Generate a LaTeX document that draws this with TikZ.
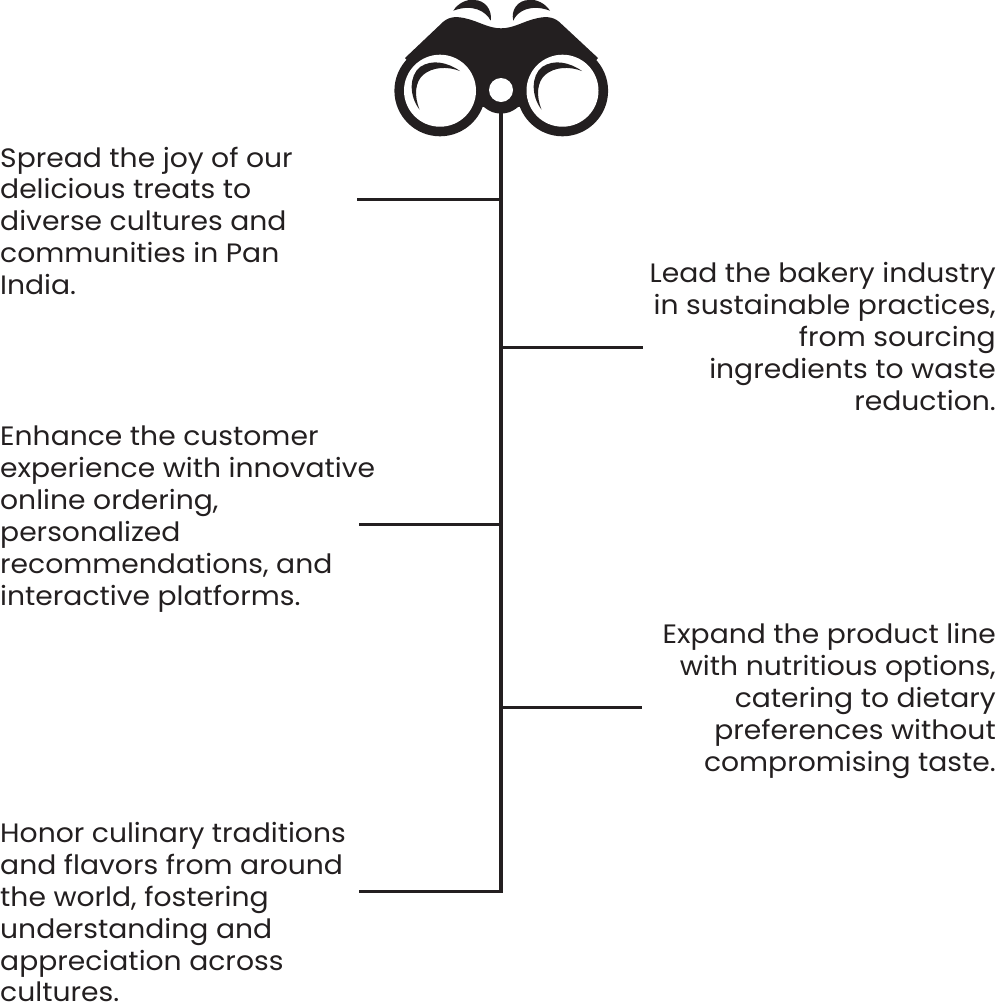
\documentclass[tikz,border=0pt]{standalone}
\usepackage{fontspec}
\setmainfont{Poppins}[FakeStretch=1.06,Ligatures=NoCommon]
\definecolor{ink}{HTML}{231F20}
\tikzset{
  every picture/.style={x=1pt,y=-1pt},
  leftnote/.style={anchor=north west,align=left,inner sep=0pt,text=ink,font=\fontsize{26.6}{31.9}\selectfont},
  rightnote/.style={anchor=north east,align=right,inner sep=0pt,text=ink,font=\fontsize{26.6}{31.9}\selectfont},
  rule/.style={draw=ink,line width=3pt},
  spine/.style={draw=ink,line width=4pt},
  junction/.style={coordinate}
}
\begin{document}
\begin{tikzpicture}
\useasboundingbox (0,0) rectangle (996,1002);

% binocular body and barrels
\fill[ink] (405,58) -- (443.3,21.7) .. controls (450,16) and (458,16.5) .. (466,18.5)
  .. controls (478,21) and (488,28.3) .. (501,28.3)
  .. controls (514,28.3) and (524,21) .. (536,18.5)
  .. controls (544,16.5) and (552,16) .. (559,21.7)
  -- (598,58) -- (563,100) -- (518,107)
  .. controls (512,112) and (507,113.5) .. (501,113.5)
  .. controls (495,113.5) and (490,112) .. (484,107) -- (440,100) -- cycle;
\fill[ink] (440,90.7) circle[radius=45.6];
\fill[ink] (562.5,90.7) circle[radius=45.6];
\fill[white] (440,90.7) circle[radius=36];
\fill[white] (562.5,90.7) circle[radius=36];
\fill[white] (501,90) circle[radius=12];

% eyebrow caps over the eyepieces
\fill[ink] (453.3,10.7) .. controls (458,3) and (467,-1) .. (474,0)
  .. controls (485,0) and (492.5,10) .. (490.7,20.7)
  .. controls (486,11) and (472,3.5) .. (453.3,10.7) -- cycle;
\fill[ink] (550,10.7) .. controls (545,3) and (536,-1) .. (529,0)
  .. controls (518,0) and (510.5,10) .. (513.3,20.7)
  .. controls (517,11) and (531,3.5) .. (550,10.7) -- cycle;

% lens glints
\fill[ink] (460,71) .. controls (447,62) and (432,59) .. (420,67)
  .. controls (409,76) and (409,96) .. (419.5,109.5)
  .. controls (414,96) and (415,82) .. (423,75)
  .. controls (432,67) and (447,66) .. (460,71) -- cycle;
\fill[ink] (582,71) .. controls (569,62) and (554,59) .. (542,67)
  .. controls (531,76) and (531,96) .. (541.5,109.5)
  .. controls (536,96) and (537,82) .. (545,75)
  .. controls (554,67) and (569,66) .. (582,71) -- cycle;

% central stem and its side branches
\coordinate (stemtop) at (501,112);
\coordinate (stembot) at (501,892.5);
\draw[spine] (stemtop) -- (stembot);

\coordinate[junction] (j1) at (501,199);
\coordinate[junction] (j2) at (501,347);
\coordinate[junction] (j3) at (501,524);
\coordinate[junction] (j4) at (501,707);
\coordinate[junction] (j5) at (501,891);
\coordinate (e1) at (357,199);
\coordinate (e2) at (643,347);
\coordinate (e3) at (359,524);
\coordinate (e4) at (642,707);
\coordinate (e5) at (359,891);
\draw[rule] (j1) -- (e1);
\draw[rule] (j2) -- (e2);
\draw[rule] (j3) -- (e3);
\draw[rule] (j4) -- (e4);
\draw[rule] (j5) -- (e5);

% goal statements
\node[leftnote] (n1) at (0,146.5) {Spread the joy of our\\delicious treats to\\diverse cultures and\\communities in Pan\\India.};
\node[rightnote] (n2) at (996,262) {Lead the bakery industry\\in sustainable practices,\\from sourcing\\ingredients to waste\\reduction.};
\node[leftnote] (n3) at (0,426) {Enhance the customer\\experience with innovative\\online ordering,\\personalized\\recommendations, and\\interactive platforms.};
\node[rightnote] (n4) at (996,623) {Expand the product line\\with nutritious options,\\catering to dietary\\preferences without\\compromising taste.};
\node[leftnote] (n5) at (0,822) {Honor culinary traditions\\and flavors from around\\the world, fostering\\understanding and\\appreciation across\\cultures.};
\end{tikzpicture}
\end{document}
